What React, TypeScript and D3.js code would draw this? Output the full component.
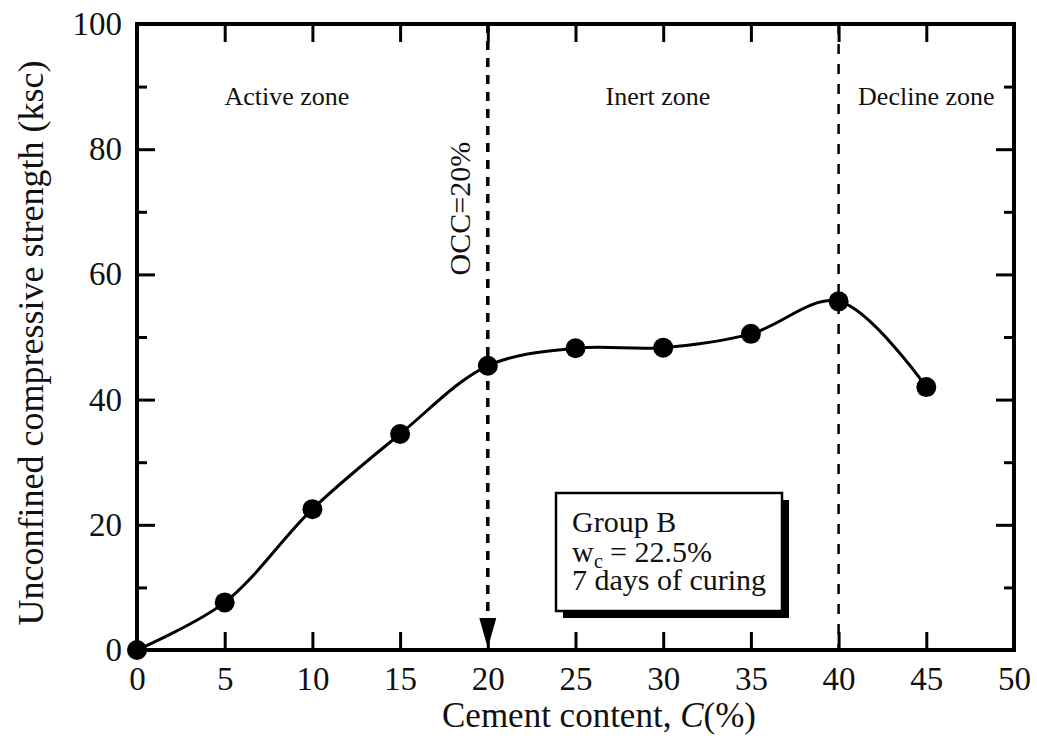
import React, { useEffect, useRef } from 'react';
import * as d3 from 'd3';

// cement content (%) and unconfined compressive strength (ksc)
const cement = [0, 5, 10, 15, 20, 25, 30, 35, 40, 45];
const strength = [0, 7.6, 22.5, 34.5, 45.4, 48.2, 48.3, 50.5, 55.7, 42.0];

const xTicks = [0, 5, 10, 15, 20, 25, 30, 35, 40, 45, 50];
const yTicks = [0, 20, 40, 60, 80, 100];
const yMinorTicks = [10, 30, 50, 70, 90];

const zones = [
  { label: 'Active zone', at: 8.55 },
  { label: 'Inert zone', at: 29.7 },
  { label: 'Decline zone', at: 45 },
];
const occ = 20;
const declineStart = 40;

const W = 1037;
const H = 747;
const FONT = '"Liberation Serif", "Times New Roman", Times, serif';

const App = () => {
  const svgRef = useRef<SVGSVGElement | null>(null);
  const margin = { top: 24, right: 23, bottom: 97, left: 137 };
  const innerW = W - margin.left - margin.right;
  const innerH = H - margin.top - margin.bottom;

  useEffect(() => {
    const svg = d3.select(svgRef.current);
    svg.selectAll('*').remove();

    const x = d3.scaleLinear().domain([0, 50]).range([0, innerW]);
    const y = d3.scaleLinear().domain([0, 100]).range([innerH, 0]);

    const g = svg.append('g').attr('transform', `translate(${margin.left},${margin.top})`);

    const styleAxis = (sel: any, size: number) => {
      sel.select('.domain').remove();
      sel.selectAll('line').attr('stroke', '#000').attr('stroke-width', 3);
      sel.selectAll('text').attr('fill', '#111').style('font-family', FONT).style('font-size', `${size}px`);
    };

    // bottom + top
    g.append('g')
      .attr('transform', `translate(0,${innerH})`)
      .call(d3.axisBottom(x).tickValues(xTicks).tickSizeInner(-18).tickSizeOuter(0).tickPadding(17))
      .call((s: any) => styleAxis(s, 33));
    g.append('g')
      .call(d3.axisTop(x).tickValues(xTicks).tickSizeInner(-18).tickSizeOuter(0).tickFormat(() => ''))
      .call((s: any) => styleAxis(s, 33));

    // left + right
    g.append('g')
      .call(d3.axisLeft(y).tickValues(yTicks).tickSizeInner(-18).tickSizeOuter(0).tickPadding(15))
      .call((s: any) => styleAxis(s, 33));
    g.append('g')
      .call(d3.axisLeft(y).tickValues(yMinorTicks).tickSizeInner(-10).tickSizeOuter(0).tickFormat(() => ''))
      .call((s: any) => styleAxis(s, 33));
    g.append('g')
      .attr('transform', `translate(${innerW},0)`)
      .call(d3.axisRight(y).tickValues(yTicks).tickSizeInner(-18).tickSizeOuter(0).tickFormat(() => ''))
      .call((s: any) => styleAxis(s, 33));
    g.append('g')
      .attr('transform', `translate(${innerW},0)`)
      .call(d3.axisRight(y).tickValues(yMinorTicks).tickSizeInner(-10).tickSizeOuter(0).tickFormat(() => ''))
      .call((s: any) => styleAxis(s, 33));

    // frame
    g.append('rect')
      .attr('width', innerW)
      .attr('height', innerH)
      .attr('fill', 'none')
      .attr('stroke', '#000')
      .attr('stroke-width', 4);

    // zone boundaries
    g.append('line')
      .attr('x1', x(occ)).attr('x2', x(occ))
      .attr('y1', 0).attr('y2', innerH - 30)
      .attr('stroke', '#000').attr('stroke-width', 3.5)
      .attr('stroke-dasharray', '9,8');
    g.append('path')
      .attr('d', `M${x(occ) - 8.5},${innerH - 32}L${x(occ) + 8.5},${innerH - 32}L${x(occ)},${innerH - 2}Z`)
      .attr('fill', '#000');
    g.append('line')
      .attr('x1', x(declineStart)).attr('x2', x(declineStart))
      .attr('y1', 0).attr('y2', innerH)
      .attr('stroke', '#000').attr('stroke-width', 2.5)
      .attr('stroke-dasharray', '10,10');

    // zone labels
    g.selectAll('text.zone')
      .data(zones)
      .enter()
      .append('text')
      .attr('class', 'zone')
      .attr('x', d => x(d.at))
      .attr('y', y(87))
      .attr('text-anchor', 'middle')
      .style('font-family', FONT)
      .style('font-size', '26px')
      .attr('fill', '#111')
      .text(d => d.label);

    g.append('text')
      .attr('transform', `translate(${x(occ) - 18},${y(70.5)}) rotate(-90)`)
      .attr('text-anchor', 'middle')
      .style('font-family', FONT)
      .style('font-size', '30px')
      .attr('fill', '#111')
      .text('OCC=20%');

    // curve and points
    const pts = cement.map((c, i) => [c, strength[i]] as [number, number]);
    const drawLine = d3.line<[number, number]>()
      .x(d => x(d[0]))
      .y(d => y(d[1]))
      .curve(d3.curveCatmullRom.alpha(0.5));
    g.append('path')
      .datum(pts)
      .attr('d', drawLine)
      .attr('fill', 'none')
      .attr('stroke', '#000')
      .attr('stroke-width', 3);
    g.selectAll('circle')
      .data(pts)
      .enter()
      .append('circle')
      .attr('cx', d => x(d[0]))
      .attr('cy', d => y(d[1]))
      .attr('r', 10)
      .attr('fill', '#000');

    // note box
    const bx = 419, by = 469, bw = 226, bh = 118;
    g.append('rect').attr('x', bx + 7).attr('y', by + 7).attr('width', bw).attr('height', bh).attr('fill', '#000');
    g.append('rect').attr('x', bx).attr('y', by).attr('width', bw).attr('height', bh)
      .attr('fill', '#fff').attr('stroke', '#000').attr('stroke-width', 2.5);
    const noteText = (tx: number, ty: number, s: string, size = 30) =>
      g.append('text')
        .attr('x', tx)
        .attr('y', ty)
        .style('font-family', FONT)
        .style('font-size', `${size}px`)
        .attr('fill', '#111')
        .text(s);
    noteText(bx + 16, by + 39, 'Group B');
    noteText(bx + 16, by + 69, 'w');
    noteText(bx + 38, by + 75, 'c', 20);
    noteText(bx + 54, by + 69, '= 22.5%');
    noteText(bx + 16, by + 97, '7 days of curing');

    // axis titles
    const xt = svg.append('text')
      .attr('x', 442)
      .attr('y', 727)
      .style('font-family', FONT)
      .style('font-size', '35px')
      .attr('fill', '#111');
    xt.append('tspan').text('Cement content, ');
    xt.append('tspan').style('font-style', 'italic').text('C');
    xt.append('tspan').text('(%)');

    svg.append('text')
      .attr('transform', `translate(43,343) rotate(-90)`)
      .attr('text-anchor', 'middle')
      .style('font-family', FONT)
      .style('font-size', '36px')
      .attr('fill', '#111')
      .text('Unconfined compressive strength (ksc)');
  }, []);

  return (
    <svg
      ref={svgRef}
      width={W}
      height={H}
      viewBox={`0 0 ${W} ${H}`}
      style={{ position: 'absolute', left: 0, top: 0, background: '#fff' }}
    />
  );
};

export default App;
